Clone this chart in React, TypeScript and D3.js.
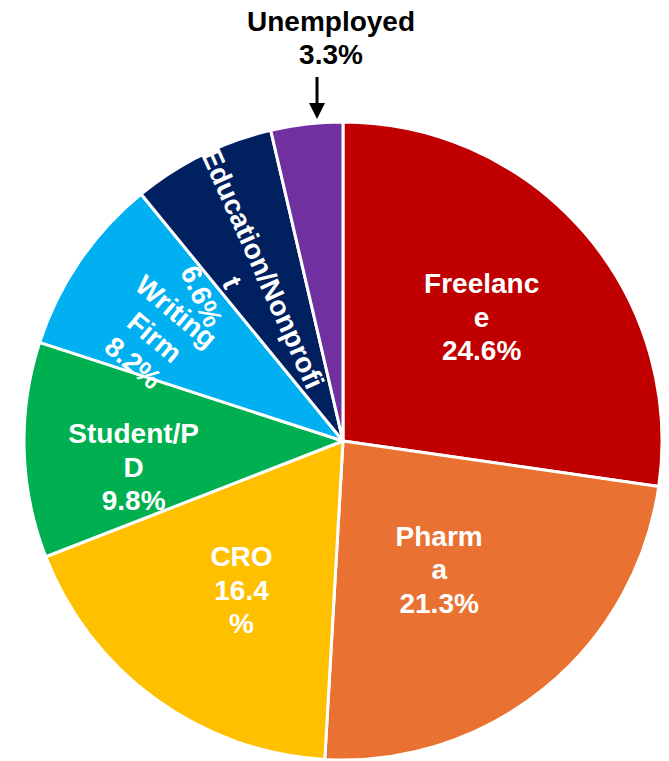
import React from 'react';
import * as d3 from 'd3';

const categories = ['Freelance', 'Pharma', 'CRO', 'Student/PD', 'Writing Firm', 'Education/Nonprofit', 'Unemployed'];
const counts = [15, 13, 10, 6, 5, 4, 2];
const percentLabels = ['24.6%', '21.3%', '16.4%', '9.8%', '8.2%', '6.6%', '3.3%'];
const labelLines = [
  ['Freelanc', 'e', '24.6%'],
  ['Pharm', 'a', '21.3%'],
  ['CRO', '16.4', '%'],
  ['Student/P', 'D', '9.8%'],
  ['Writing', 'Firm', '8.2%'],
  ['Education/Nonprofi', 't', '6.6%'],
];
const colors = ['#C00000', '#E97132', '#FFC000', '#00B050', '#00B0F0', '#002060', '#7030A0'];

// layout (text nudges only)
const labelNudge = [
  { dx: -6, dy: 1, rot: 0 },
  { dx: -25, dy: -20, rot: 0 },
  { dx: 11, dy: -6, rot: 0 },
  { dx: -18, dy: 20, rot: 0 },
  { dx: -30, dy: 4, rot: 40 },
  { dx: -26, dy: 13, rot: 65.8 },
];

const W = 669;
const H = 761;
const cx = 343;
const cy = 441;
const R = 319;
const FONT = '"Liberation Sans", Arial, sans-serif';
const FS = 28;
const LH = 33.5;

export default function App() {
  const pie = d3.pie<number>().sort(null).value((d) => d)(counts);
  const arc = d3.arc<d3.PieArcDatum<number>>().innerRadius(0).outerRadius(R);
  const labelArc = d3.arc<d3.PieArcDatum<number>>().innerRadius(R * 0.6).outerRadius(R * 0.6);

  const arrowX = cx - 26;

  return (
    <svg width={W} height={H} style={{ position: 'absolute', left: 0, top: 0, background: '#fff' }}>
      <g transform={`translate(${cx},${cy})`}>
        {pie.map((p, i) => (
          <path key={categories[i]} d={arc(p) || ''} fill={colors[i]} stroke="#fff" strokeWidth={3} strokeLinejoin="round" />
        ))}
        {labelLines.map((lines, i) => {
          const [x, y] = labelArc.centroid(pie[i]);
          const n = labelNudge[i];
          return (
            <g key={i} transform={`translate(${x + n.dx},${y + n.dy}) rotate(${n.rot})`}>
              {lines.map((t, j) => (
                <text
                  key={j}
                  x={0}
                  y={(j - 1) * LH}
                  dy="0.36em"
                  textAnchor="middle"
                  fill="#fff"
                  fontFamily={FONT}
                  fontWeight="bold"
                  fontSize={FS}
                >
                  {t}
                </text>
              ))}
            </g>
          );
        })}
      </g>
      <text x={arrowX + 14} y={31} textAnchor="middle" fontFamily={FONT} fontWeight="bold" fontSize={FS} fill="#000">
        {categories[6]}
      </text>
      <text x={arrowX + 14} y={64} textAnchor="middle" fontFamily={FONT} fontWeight="bold" fontSize={FS} fill="#000">
        {percentLabels[6]}
      </text>
      <line x1={arrowX} x2={arrowX} y1={77} y2={106} stroke="#000" strokeWidth={3} />
      <path d={`M${arrowX - 8},${103} L${arrowX + 8},${103} L${arrowX},${119} Z`} fill="#000" />
    </svg>
  );
}
